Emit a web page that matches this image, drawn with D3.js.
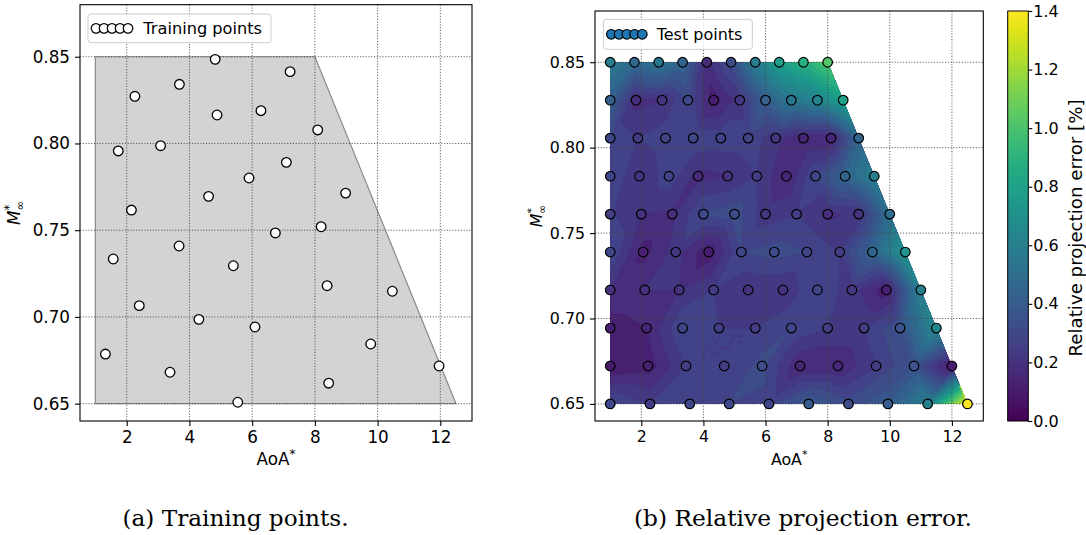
<!DOCTYPE html>
<html>
<head>
<meta charset="utf-8">
<script src="https://cdn.jsdelivr.net/npm/d3@7"></script>
<style>
  body { margin: 0; background: #fff; }
  svg text { font-family: "DejaVu Sans", sans-serif; fill: #000; }
</style>
</head>
<body>
<svg id="fig" width="1086" height="535"></svg>
<script>
// ---------- data ----------
// Training samples in the (AoA*, M∞*) design space
const trainAoA = [4.82, 7.21, 2.26, 3.68, 4.88, 6.28, 8.09, 1.73, 3.08, 7.09,
                  5.90, 8.98, 4.61, 2.15, 8.20, 6.74, 3.67, 1.57, 5.40, 8.39,
                  10.47, 2.40, 4.30, 6.09, 9.78, 1.32, 11.96, 3.38, 8.44, 5.54];
const trainMach = [0.8485, 0.8414, 0.8272, 0.8341, 0.8164, 0.8189, 0.8078, 0.7957, 0.7987, 0.7891,
                   0.7801, 0.7714, 0.7695, 0.7616, 0.7520, 0.7484, 0.7409, 0.7334, 0.7295, 0.7180,
                   0.7148, 0.7065, 0.6986, 0.6942, 0.6844, 0.6786, 0.6717, 0.6681, 0.6618, 0.6508];

// Boundary of the sampled design space
const domainAoA  = [1, 8, 12.5, 1];
const domainMach = [0.85, 0.85, 0.65, 0.65];

// Test grid: one Mach number per row, AoA* stations along each row
const testMach = [0.85, 0.8278, 0.8056, 0.7833, 0.7611, 0.7389, 0.7167, 0.6944, 0.6722, 0.65];
const testAoA = [
  [1, 1.78, 2.56, 3.33, 4.11, 4.89, 5.67, 6.44, 7.22, 8],
  [1, 1.83, 2.67, 3.50, 4.33, 5.17, 6.00, 6.83, 7.67, 8.5],
  [1, 1.89, 2.78, 3.67, 4.56, 5.44, 6.33, 7.22, 8.11, 9],
  [1, 1.94, 2.89, 3.83, 4.78, 5.72, 6.67, 7.61, 8.56, 9.5],
  [1, 2.00, 3.00, 4.00, 5.00, 6.00, 7.00, 8.00, 9.00, 10],
  [1, 2.06, 3.11, 4.17, 5.22, 6.28, 7.33, 8.39, 9.44, 10.5],
  [1, 2.11, 3.22, 4.33, 5.44, 6.56, 7.67, 8.78, 9.89, 11],
  [1, 2.17, 3.33, 4.50, 5.67, 6.83, 8.00, 9.17, 10.33, 11.5],
  [1, 2.22, 3.44, 4.67, 5.89, 7.11, 8.33, 9.56, 10.78, 12],
  [1, 2.28, 3.56, 4.83, 6.11, 7.39, 8.67, 9.94, 11.22, 12.5]
];
// Relative projection error [%] at each test point
const testError = [
  [0.58, 0.47, 0.55, 0.45, 0.18, 0.32, 0.58, 0.78, 0.88, 1.02],
  [0.42, 0.18, 0.20, 0.30, 0.12, 0.22, 0.42, 0.55, 0.62, 0.80],
  [0.30, 0.25, 0.28, 0.30, 0.28, 0.28, 0.22, 0.15, 0.15, 0.45],
  [0.30, 0.20, 0.28, 0.18, 0.20, 0.25, 0.15, 0.30, 0.45, 0.60],
  [0.26, 0.20, 0.19, 0.31, 0.33, 0.22, 0.25, 0.19, 0.21, 0.50],
  [0.30, 0.13, 0.22, 0.11, 0.30, 0.32, 0.30, 0.25, 0.45, 0.72],
  [0.20, 0.20, 0.20, 0.25, 0.20, 0.20, 0.30, 0.22, 0.12, 0.60],
  [0.12, 0.15, 0.30, 0.25, 0.25, 0.30, 0.25, 0.25, 0.35, 0.65],
  [0.10, 0.12, 0.25, 0.25, 0.32, 0.15, 0.15, 0.25, 0.35, 0.10],
  [0.30, 0.25, 0.30, 0.30, 0.28, 0.40, 0.32, 0.40, 0.60, 1.40]
];

const xTicks = [2, 4, 6, 8, 10, 12];
const yTicks = [0.65, 0.70, 0.75, 0.80, 0.85];
const cbTicks = [0, 0.2, 0.4, 0.6, 0.8, 1.0, 1.2, 1.4];
const errMin = 0, errMax = 1.4;

// ---------- layout ----------
const svg = d3.select("#fig");
const defs = svg.append("defs");
const panels = {
  a: { x0: 80,  x1: 472,   y0: 4.7, y1: 421, font: 16.8 },
  b: { x0: 595, x1: 983.3, y0: 11,  y1: 421, font: 15.8 }
};
const xDomain = [0.51, 13.01];
const yDomain = [0.64, 0.88];
const colour = v => d3.interpolateViridis((v - errMin) / (errMax - errMin));

function makeScales(p) {
  return {
    x: d3.scaleLinear().domain(xDomain).range([p.x0, p.x1]),
    y: d3.scaleLinear().domain(yDomain).range([p.y1, p.y0])
  };
}

function drawGrid(g, p, s) {
  const grid = g.append("g").attr("class", "grid")
    .attr("stroke", "#444").attr("stroke-width", 0.9)
    .attr("stroke-dasharray", "1.1,1.7");
  grid.selectAll(".gx").data(xTicks).join("line")
    .attr("x1", d => s.x(d)).attr("x2", d => s.x(d))
    .attr("y1", p.y0).attr("y2", p.y1);
  grid.selectAll(".gy").data(yTicks).join("line")
    .attr("y1", d => s.y(d)).attr("y2", d => s.y(d))
    .attr("x1", p.x0).attr("x2", p.x1);
}

function drawAxes(g, p, s, yLabelX) {
  const xAxis = d3.axisBottom(s.x).tickValues(xTicks).tickSize(5).tickPadding(5)
    .tickFormat(d3.format("d"));
  const yAxis = d3.axisLeft(s.y).tickValues(yTicks).tickSize(5).tickPadding(5)
    .tickFormat(d3.format(".2f"));
  const gx = g.append("g").attr("transform", `translate(0,${p.y1})`).call(xAxis);
  const gy = g.append("g").attr("transform", `translate(${p.x0},0)`).call(yAxis);
  [gx, gy].forEach(a => {
    a.select(".domain").remove();
    a.selectAll(".tick line").attr("stroke", "#000").attr("stroke-width", 1.1);
    a.selectAll(".tick text").attr("font-size", p.font)
      .attr("font-family", "DejaVu Sans");
  });
  // frame
  g.append("rect").attr("x", p.x0).attr("y", p.y0)
    .attr("width", p.x1 - p.x0).attr("height", p.y1 - p.y0)
    .attr("fill", "none").attr("stroke", "#000").attr("stroke-width", 1.1);

  // x label: AoA*
  const xl = g.append("text").attr("x", (p.x0 + p.x1) / 2).attr("y", p.y1 + 44)
    .attr("text-anchor", "middle").attr("font-size", p.font);
  xl.append("tspan").text("AoA");
  xl.append("tspan").attr("font-size", p.font * 0.7).attr("dy", -7).text("*");

  // y label: M∞* (rotated)
  const cy = (p.y0 + p.y1) / 2;
  const yl = g.append("text")
    .attr("transform", `translate(${yLabelX},${cy}) rotate(-90)`)
    .attr("text-anchor", "middle").attr("font-size", p.font);
  yl.append("tspan").attr("font-style", "italic").text("M");
  yl.append("tspan").attr("font-size", p.font * 0.7).attr("dy", -7).text("*");
  yl.append("tspan").attr("font-size", p.font * 0.7).attr("dx", -6).attr("dy", 11).text("∞");
}

function drawLegend(g, box, marker, label, p) {
  g.append("rect").attr("x", box.x).attr("y", box.y)
    .attr("width", box.w).attr("height", box.h).attr("rx", 3)
    .attr("fill", "#fff").attr("fill-opacity", 0.8)
    .attr("stroke", "#ccc").attr("stroke-width", 1);
  const cxs = d3.range(5).map(i => box.x + 8 + i * box.step);
  g.selectAll(null).data(cxs).join("circle")
    .attr("cx", d => d).attr("cy", box.y + box.h / 2)
    .attr("r", 4.8).attr("fill", marker).attr("stroke", "#000").attr("stroke-width", 1.2);
  g.append("text").attr("x", box.tx).attr("y", box.y + box.h / 2)
    .attr("dy", "0.36em").attr("font-size", p.font).text(label);
}

// ---------- (a) training points ----------
{
  const p = panels.a, s = makeScales(p);
  const g = svg.append("g");
  const poly = domainAoA.map((a, i) => [s.x(a), s.y(domainMach[i])]);
  g.append("path").attr("d", d3.line()(poly) + "Z")
    .attr("fill", "#d3d3d3").attr("stroke", "#8a8a8a").attr("stroke-width", 1.2);
  drawGrid(g, p, s);
  g.selectAll(".train").data(trainAoA).join("circle")
    .attr("cx", d => s.x(d)).attr("cy", (d, i) => s.y(trainMach[i]))
    .attr("r", 4.8).attr("fill", "#fff").attr("stroke", "#000").attr("stroke-width", 1.3);
  drawAxes(g, p, s, 20);
  drawLegend(g, { x: 88, y: 14, w: 183, h: 28.7, step: 8, tx: 143.3 }, "#fff", "Training points", { font: 16.2 });
}

// ---------- (b) relative projection error ----------
{
  const p = panels.b, s = makeScales(p);
  const g = svg.append("g");

  // flatten the test grid
  const pts = [];
  testMach.forEach((m, r) => testAoA[r].forEach((a, c) =>
    pts.push({ a, m, e: testError[r][c], px: s.x(a), py: s.y(m) })));

  // Delaunay triangulation on screen positions, linear interpolation inside each triangle
  const del = d3.Delaunay.from(pts, d => d.px, d => d.py);
  const step = 1.5;
  const bx0 = s.x(1) - 2, bx1 = s.x(12.5) + 2, by0 = s.y(0.85) - 2, by1 = s.y(0.65) + 2;
  const nx = Math.ceil((bx1 - bx0) / step) + 1, ny = Math.ceil((by1 - by0) / step) + 1;
  const vals = new Float64Array(nx * ny).fill(NaN);
  const T = del.triangles;
  for (let t = 0; t < T.length; t += 3) {
    const A = pts[T[t]], B = pts[T[t + 1]], C = pts[T[t + 2]];
    const det = (B.py - C.py) * (A.px - C.px) + (C.px - B.px) * (A.py - C.py);
    if (Math.abs(det) < 1e-9) continue;
    const i0 = Math.max(0, Math.floor((Math.min(A.px, B.px, C.px) - bx0) / step));
    const i1 = Math.min(nx - 1, Math.ceil((Math.max(A.px, B.px, C.px) - bx0) / step));
    const j0 = Math.max(0, Math.floor((Math.min(A.py, B.py, C.py) - by0) / step));
    const j1 = Math.min(ny - 1, Math.ceil((Math.max(A.py, B.py, C.py) - by0) / step));
    for (let j = j0; j <= j1; j++) {
      const y = by0 + j * step;
      for (let i = i0; i <= i1; i++) {
        const x = bx0 + i * step;
        const l1 = ((B.py - C.py) * (x - C.px) + (C.px - B.px) * (y - C.py)) / det;
        const l2 = ((C.py - A.py) * (x - C.px) + (A.px - C.px) * (y - C.py)) / det;
        const l3 = 1 - l1 - l2;
        if (l1 >= -1e-6 && l2 >= -1e-6 && l3 >= -1e-6) {
          vals[j * nx + i] = l1 * A.e + l2 * B.e + l3 * C.e;
        }
      }
    }
  }
  // nodes outside the hull take the nearest sample (they are clipped away)
  for (let j = 0; j < ny; j++) for (let i = 0; i < nx; i++) {
    const k = j * nx + i;
    if (isNaN(vals[k])) vals[k] = pts[del.find(bx0 + i * step, by0 + j * step)].e;
  }

  const levels = d3.range(0, 28).map(i => errMin + i * 0.05);
  const contours = d3.contours().size([nx, ny]).thresholds(levels)(Array.from(vals));
  const gx0 = bx0 - 0.5 * step, gy0 = by0 - 0.5 * step;
  const path = d3.geoPath(d3.geoTransform({
    point(x, y) { this.stream.point(gx0 + x * step, gy0 + y * step); }
  }));

  const poly = domainAoA.map((a, i) => [s.x(a), s.y(domainMach[i])]);
  defs.append("clipPath").attr("id", "domainClip")
    .append("path").attr("d", d3.line()(poly) + "Z");

  g.append("g").attr("clip-path", "url(#domainClip)")
    .selectAll("path").data(contours).join("path")
    .attr("d", path)
    .attr("fill", d => colour(Math.min(errMax, d.value + 0.025)))
    .attr("stroke", d => colour(Math.min(errMax, d.value + 0.025)))
    .attr("stroke-width", 0.3);

  drawGrid(g, p, s);
  g.selectAll(".test").data(pts).join("circle")
    .attr("cx", d => d.px).attr("cy", d => d.py)
    .attr("r", 4.8).attr("fill", d => colour(d.e))
    .attr("stroke", "#000").attr("stroke-width", 1.2);
  drawAxes(g, p, s, 541.5);
  drawLegend(g, { x: 603.3, y: 19.3, w: 149, h: 30, step: 7.75, tx: 656.7 }, "#1f77b4", "Test points", { font: 16 });

  // colour bar
  const cb = { x0: 1007.7, x1: 1028.3, y0: 11, y1: 421 };
  const cs = d3.scaleLinear().domain([errMin, errMax]).range([cb.y1, cb.y0]);
  const grad = defs.append("linearGradient").attr("id", "viridisBar")
    .attr("x1", 0).attr("y1", 1).attr("x2", 0).attr("y2", 0);
  d3.range(0, 1.0001, 0.02).forEach(t =>
    grad.append("stop").attr("offset", t).attr("stop-color", d3.interpolateViridis(t)));
  svg.append("rect").attr("x", cb.x0).attr("y", cb.y0)
    .attr("width", cb.x1 - cb.x0).attr("height", cb.y1 - cb.y0)
    .attr("fill", "url(#viridisBar)").attr("stroke", "#000").attr("stroke-width", 1);
  const cbAxis = svg.append("g").attr("transform", `translate(${cb.x1},0)`)
    .call(d3.axisRight(cs).tickValues(cbTicks).tickSize(4).tickPadding(1).tickFormat(d3.format(".1f")));
  cbAxis.select(".domain").remove();
  cbAxis.selectAll(".tick line").attr("stroke", "#000").attr("stroke-width", 1.1);
  cbAxis.selectAll(".tick text").attr("font-size", 16).attr("font-family", "DejaVu Sans");
  svg.append("text")
    .attr("transform", `translate(1082,228) rotate(-90)`)
    .attr("text-anchor", "middle").attr("font-size", 18.2)
    .text("Relative projection error [%]");
}

// ---------- captions ----------
svg.append("text").attr("x", 235.5).attr("y", 526)
  .attr("text-anchor", "middle").attr("font-size", 22.5)
  .attr("textLength", 226).attr("lengthAdjust", "spacingAndGlyphs")
  .style("font-family", "'DejaVu Serif', serif")
  .text("(a) Training points.");
svg.append("text").attr("x", 803).attr("y", 526)
  .attr("text-anchor", "middle").attr("font-size", 22.5)
  .attr("textLength", 338).attr("lengthAdjust", "spacingAndGlyphs")
  .style("font-family", "'DejaVu Serif', serif")
  .text("(b) Relative projection error.");
</script>
</body>
</html>
